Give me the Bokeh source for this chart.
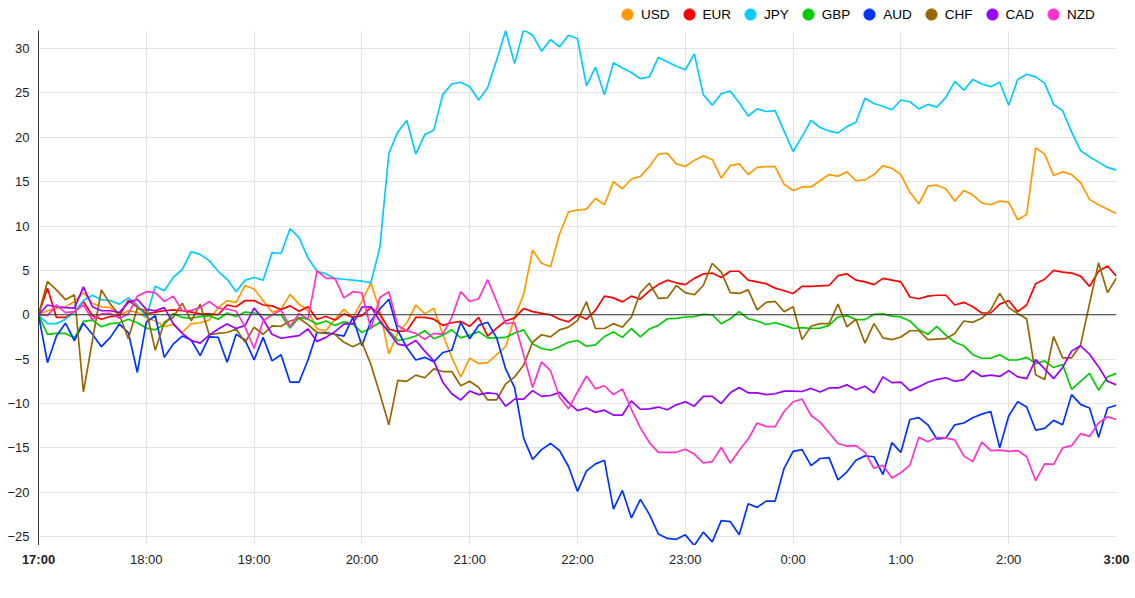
import numpy as np
from bokeh.plotting import figure
from bokeh.layouts import column
from bokeh.models import (Range1d, FixedTicker, Span, Legend, LegendItem, ColumnDataSource)
from bokeh.core.properties import value
from bokeh.embed import file_html
from bokeh.resources import INLINE

# ---- data (5-minute steps from 17:00 to 3:00) ----
minutes = list(range(0, 605, 5))
tick_minutes = [0, 60, 120, 180, 240, 300, 360, 420, 480, 540, 600]
tick_labels = ["17:00", "18:00", "19:00", "20:00", "21:00", "22:00", "23:00", "0:00", "1:00", "2:00", "3:00"]
tick_styles = ["bold", "normal", "normal", "normal", "normal", "normal", "normal", "normal", "normal", "normal", "bold"]
y_ticks = [-25, -20, -15, -10, -5, 0, 5, 10, 15, 20, 25, 30]

usd = [0, 0.45, 0.75, 0.9, 1.5, 2.5, 1.3, 0.9, 0.8, -0.1, 0.45, 0.3, -0.3, -0.7, -1.3, -1.1, -2.0, -1.0, -0.9, -0.6,
       0.8, 1.6, 1.4, 3.3, 2.9, 1.6, 0.3, 0.6, 2.3, 1.2, 0.45, -1.6, -1.8, -0.5, 0.6, -0.3, 1.5, 3.6, 0.45, -4.4,
       -2.0, -0.9, 1.1, 0.1, 0.75, -2.2, -4.8, -7.0, -4.9, -5.5, -5.4, -4.5, -3.6, -0.3, 2.3, 7.3, 5.8, 5.4, 9.1, 11.6,
       11.8, 11.9, 13.1, 12.4, 15.0, 14.2, 15.3, 15.6, 16.7, 18.1, 18.2, 17.0, 16.7, 17.4, 17.9, 17.5, 15.4, 16.8, 17.0, 15.8,
       16.6, 16.7, 16.7, 14.7, 14.0, 14.4, 14.4, 15.1, 15.8, 15.6, 16.1, 15.1, 15.2, 15.8, 16.8, 16.5, 15.8, 13.8, 12.5, 14.5,
       14.6, 14.2, 12.8, 14.0, 13.5, 12.6, 12.4, 12.8, 12.7, 10.7, 11.3, 18.8, 18.1, 15.7, 16.1, 15.8, 14.9, 13.0, 12.4, 11.9,
       11.4]
eur = [0, 3.0, -0.3, -0.3, 0.3, 1.5, -0.1, -0.5, -0.2, -0.1, 1.6, 0.9, 0.1, 0.3, 0.45, 0.55, 0.45, 0.3, 0.1, 0.1,
       0, 1.1, 0.9, 1.6, 1.6, 1.1, 1.0, 0.6, 1.0, 0.4, 0.9, -0.5, -0.2, -0.6, 0.1, -0.3, -0.1, 0.8, 0.1, -1.6,
       -1.9, -1.8, -0.3, -0.3, -0.5, -1.2, -0.9, -0.75, -1.3, -0.3, -2.4, -1.5, -0.7, -0.35, 0.7, 0.35, 0.15, 0, -0.5, -0.8,
       0, -0.5, 0.5, 2.1, 1.9, 1.45, 2.1, 1.75, 2.7, 3.4, 3.9, 3.6, 3.4, 4.1, 4.6, 4.7, 4.2, 4.9, 4.9, 3.9,
       3.7, 3.5, 3.0, 2.7, 2.4, 3.2, 3.2, 3.25, 3.3, 4.4, 4.6, 3.9, 3.7, 3.4, 4.1, 3.9, 3.7, 2.0, 1.8, 2.1,
       2.2, 2.2, 1.1, 1.4, 0.9, 0.2, 0.2, 1.2, 1.6, 0.35, 1.1, 3.5, 4.0, 5.0, 4.8, 4.7, 4.35, 3.2, 4.9, 5.5,
       4.35]
jpy = [0, -1.0, -1.0, -0.5, 0.3, 1.6, 2.2, 1.7, 1.6, 1.2, 1.9, 1.1, -0.3, 3.2, 2.7, 4.2, 5.1, 7.1, 6.8, 6.1,
       4.9, 4.0, 2.6, 3.9, 4.2, 3.9, 7.0, 6.9, 9.7, 8.7, 6.4, 4.9, 4.6, 4.1, 4.0, 3.9, 3.8, 3.6, 7.6, 18.2,
       20.6, 21.9, 18.1, 20.3, 20.8, 24.8, 26.0, 26.2, 25.7, 24.2, 25.6, 28.7, 32.0, 28.3, 32.1, 31.5, 29.7, 31.0, 30.2, 31.5,
       31.1, 25.8, 27.9, 24.8, 28.4, 27.8, 27.3, 26.6, 26.8, 29.0, 28.5, 28.0, 27.6, 29.4, 24.8, 23.6, 24.9, 25.2, 23.9, 22.4,
       23.2, 22.9, 23.0, 20.7, 18.4, 20.1, 21.9, 21.1, 20.7, 20.5, 21.2, 21.7, 24.4, 23.8, 23.5, 23.1, 24.2, 24.0, 23.2, 23.7,
       23.4, 24.5, 26.3, 25.3, 26.5, 26.0, 25.7, 26.2, 23.6, 26.5, 27.1, 26.8, 26.1, 23.7, 23.0, 20.6, 18.5, 17.8, 17.2, 16.6,
       16.3]
gbp = [0, -2.2, -2.1, -2.1, -2.6, -0.75, -0.6, -1.35, -1.0, -0.9, -0.5, -0.9, -1.5, -1.7, -1.1, 0.15, -0.3, -0.4, -0.2, -0.1,
       -0.5, 0.2, -0.2, 0.3, 0.2, 0, 0, 0, -1.5, -0.3, -0.5, -1.05, -0.7, -1.2, -0.8, -1.05, -2.0, -1.5, -0.85, -1.8,
       -2.9, -2.7, -2.4, -1.8, -2.7, -2.3, -1.7, -2.6, -2.3, -1.9, -2.6, -2.6, -2.55, -2.05, -1.7, -3.3, -3.8, -4.0, -3.6, -3.1,
       -2.9, -3.55, -3.4, -2.45, -1.95, -2.55, -1.55, -2.5, -1.6, -1.2, -0.45, -0.4, -0.25, -0.2, 0.05, 0, -1.0, -0.45, 0.35, -0.45,
       -0.7, -1.1, -0.9, -1.2, -1.55, -1.45, -1.55, -1.5, -1.2, -0.25, -0.1, -0.55, -0.55, 0.05, 0.1, -0.15, -0.25, -0.7, -1.7, -2.2,
       -1.3, -2.3, -3.1, -3.5, -4.5, -4.9, -4.9, -4.5, -5.1, -5.1, -4.8, -5.5, -5.2, -5.95, -5.6, -8.4, -7.5, -6.6, -8.5, -7.0,
       -6.6]
aud = [0, -5.4, -2.4, -0.95, -2.9, -0.95, -2.2, -3.6, -2.55, -1.05, -2.0, -6.5, -0.85, -0.1, -4.8, -3.3, -2.4, -2.85, -4.6, -2.5,
       -2.55, -5.35, -2.2, -2.85, -5.1, -2.55, -5.2, -4.5, -7.6, -7.6, -5.1, -2.0, -2.0, -2.2, -2.4, -0.3, -3.5, -0.7, 0.65, 1.75,
       -1.8, -3.7, -5.1, -4.8, -5.3, -4.25, -4.0, -0.85, -2.7, -1.2, -0.85, -2.6, -6.1, -8.2, -13.9, -16.3, -15.2, -14.5, -15.3, -17.1,
       -19.9, -17.6, -16.8, -16.4, -21.9, -19.8, -22.9, -20.8, -22.5, -24.7, -25.2, -25.3, -24.8, -26.0, -24.5, -25.6, -23.2, -23.3, -24.8, -21.3,
       -21.7, -21.0, -21.0, -17.3, -15.4, -15.2, -17.0, -16.2, -16.1, -18.6, -17.7, -16.4, -15.9, -16.0, -18.0, -14.4, -15.5, -11.8, -11.6, -12.4,
       -14.0, -13.9, -12.4, -12.2, -11.6, -11.2, -10.9, -15.0, -11.4, -9.8, -10.4, -13.0, -12.8, -11.9, -12.4, -9.0, -10.1, -10.5, -13.8, -10.5,
       -10.2]
chf = [0, 3.75, 2.8, 1.7, 2.25, -8.7, -2.9, 2.8, 1.2, 0.0, -2.7, 0.75, 0.45, -4.0, -0.85, -0.3, 1.3, -0.7, 1.2, -2.25,
       -2.1, -2.0, -1.6, -3.1, -1.4, -2.2, -1.25, -1.3, -0.7, -0.4, -1.1, -2.0, -2.1, -2.2, -3.1, -3.6, -3.1, -5.6, -8.9, -12.4,
       -7.4, -7.5, -6.8, -7.1, -6.1, -6.4, -6.4, -8.0, -7.5, -8.2, -9.6, -9.6, -7.8, -7.0, -5.7, -3.1, -2.25, -2.5, -1.7, -1.4,
       -0.65, 1.45, -1.55, -1.55, -1.0, -1.4, -0.25, 2.5, 3.55, 1.85, 1.9, 3.3, 2.5, 2.25, 3.3, 5.8, 4.8, 2.5, 2.4, 2.8,
       0.55, 1.4, 1.5, 0.35, 0.9, -2.8, -1.3, -1.0, -1.0, 1.2, -1.35, -0.5, -3.2, -1.0, -2.6, -2.8, -2.5, -1.8, -1.8, -2.8,
       -2.75, -2.7, -2.1, -0.7, -0.85, -0.4, 0.55, 2.4, 0.8, 0.15, -0.45, -6.75, -7.3, -2.45, -4.85, -4.85, -3.4, 1.25, 5.85, 2.5,
       4.15]
cad = [0, 1.1, 0.9, 0.8, 0.75, 3.15, 0.9, 0.45, 0.45, 0.25, 1.4, 1.75, 0.6, 0.45, 0.8, -1.0, -2.1, -2.9, -3.2, -2.3,
       -1.6, -1.05, -1.55, -1.2, 0.75, -0.5, -2.2, -2.65, -2.5, -2.35, -1.6, -3.0, -2.55, -1.9, -1.05, -1.0, 0.85, 0.9, -0.7, -2.0,
       -3.3, -3.5, -2.9, -4.1, -5.2, -7.6, -8.9, -9.6, -8.6, -9.0, -8.8, -8.9, -10.3, -9.5, -9.5, -8.55, -9.2, -9.1, -8.75, -9.9,
       -10.8, -10.5, -11.0, -10.75, -11.3, -11.3, -9.7, -10.65, -10.6, -10.4, -10.7, -10.15, -9.8, -10.3, -9.2, -9.2, -10.0, -8.8, -8.2, -8.8,
       -8.8, -9.0, -8.9, -8.6, -8.6, -8.65, -8.3, -8.7, -8.25, -8.25, -7.9, -8.45, -8.05, -8.8, -7.0, -7.65, -7.6, -8.55, -8.1, -7.6,
       -7.3, -7.1, -7.5, -7.3, -6.3, -6.95, -6.8, -6.95, -6.3, -7.0, -7.2, -5.05, -6.1, -7.2, -5.95, -4.1, -3.5, -4.45, -5.85, -7.5,
       -7.9]
nzd = [0, -0.1, 1.1, 0.25, 0.35, 1.1, -0.55, 0.1, 0.15, -0.4, 0.1, 2.1, 2.6, 2.5, 1.5, 2.1, 0.45, 0.5, 0.8, 1.5,
       0.75, 0.65, 0.4, -1.4, -3.8, -0.7, 0, 0.5, -1.35, 0.15, -0.5, 4.95, 4.1, 4.1, 1.9, 2.6, 2.45, -1.6, 1.95, 2.6,
       -1.25, -1.8, -2.1, -2.75, -2.1, -2.2, -0.3, 2.6, 1.5, 1.8, 3.95, 1.5, -1.0, -0.9, -4.5, -8.2, -5.3, -6.3, -9.3, -10.6,
       -8.7, -6.9, -8.35, -8.0, -9.0, -8.35, -10.65, -12.75, -14.4, -15.5, -15.5, -15.5, -15.15, -15.7, -16.7, -16.55, -14.95, -16.7, -15.3, -14.0,
       -12.2, -12.6, -12.6, -10.9, -9.8, -9.5, -11.35, -12.1, -13.3, -14.5, -14.8, -14.75, -15.5, -17.3, -16.95, -18.4, -17.8, -16.95, -13.8, -14.3,
       -13.8, -13.9, -14.1, -15.9, -16.55, -14.35, -15.3, -15.25, -15.4, -15.3, -16.0, -18.7, -16.8, -16.85, -15.0, -14.75, -13.4, -13.7, -12.2, -11.5,
       -11.8]

series_names = ["USD", "EUR", "JPY", "GBP", "AUD", "CHF", "CAD", "NZD"]
series_values = [usd, eur, jpy, gbp, aud, chf, cad, nzd]
series_colors = ["#FF9900", "#FF0000", "#00CCFF", "#00CC00", "#0033FF", "#996600", "#9900FF", "#FF33CC"]

FONT = "Liberation Sans"

# layout constants (pixels); the page itself has no body margin
TOTAL_W = 1135
BORDER_L = 38
BORDER_R = 19
FRAME_W = TOTAL_W - BORDER_L - BORDER_R
X0, X1 = 0, 600


def bare(fig):
    fig.outline_line_color = None
    fig.grid.visible = False
    fig.background_fill_color = "white"
    fig.border_fill_color = "white"


def unalign(fig):
    try:
        fig.frame_align = False
        return True
    except Exception:
        return False


# ---------- legend strip ----------
leg_fig = figure(width=TOTAL_W, height=30, x_range=Range1d(0, 1), y_range=Range1d(0, 1),
                 min_border=0, x_axis_location=None, y_axis_location=None,
                 output_backend="svg", toolbar_location=None)
bare(leg_fig)
leg_free = unalign(leg_fig)
items = []
for name, col in zip(series_names, series_colors):
    dummy_src = ColumnDataSource(data=dict(x=np.array([np.nan]), y=np.array([np.nan])))
    dummy = leg_fig.scatter("x", "y", source=dummy_src, marker="circle", size=11,
                            fill_color=col, line_color=col)
    items.append(LegendItem(label=name, renderers=[dummy]))
leg_x = 613 if leg_free else 613 - BORDER_L
legend = Legend(items=items, orientation="horizontal", location=(leg_x, 2),
                glyph_width=28, glyph_height=28, label_height=16, label_standoff=0,
                spacing=5, padding=0, margin=0,
                border_line_color=None, background_fill_alpha=0,
                label_text_font=FONT, label_text_font_size="13.5px", label_text_color="#000000")
leg_fig.add_layout(legend, "center")

# ---------- main chart ----------
p = figure(width=TOTAL_W, height=515,
           min_border_left=BORDER_L, min_border_right=BORDER_R, min_border_top=0, min_border_bottom=0,
           x_range=Range1d(X0, X1), y_range=Range1d(-26.0, 32.03),
           x_axis_location=None,
           output_backend="svg", toolbar_location=None)
p.outline_line_color = None
p.background_fill_color = "white"
p.border_fill_color = "white"

p.xgrid.ticker = FixedTicker(ticks=tick_minutes[1:-1])
p.ygrid.ticker = FixedTicker(ticks=y_ticks)
p.xgrid.grid_line_color = "#e3e3e3"
p.ygrid.grid_line_color = "#e3e3e3"

ya = p.yaxis[0]
ya.ticker = FixedTicker(ticks=y_ticks)
ya.axis_line_color = "#333333"
ya.axis_line_width = 1
ya.major_tick_line_color = None
ya.minor_tick_line_color = None
ya.major_label_standoff = 3
ya.major_label_text_font = FONT
ya.major_label_text_font_size = "13px"
ya.major_label_text_color = "#222222"

p.add_layout(Span(location=0, dimension="width", line_color="#333333", line_width=1))

for name, vals, col in zip(series_names, series_values, series_colors):
    src = ColumnDataSource(data=dict(x=minutes, y=vals))
    p.line("x", "y", source=src, line_color=col, line_width=1.7)

# ---------- x-axis label strip (same horizontal scale as main frame) ----------
per_px = (X1 - X0) / FRAME_W
ax_fig = figure(width=TOTAL_W, height=40,
                x_range=Range1d(X0, X1), y_range=Range1d(0, 40),
                min_border=0, x_axis_location=None, y_axis_location=None,
                output_backend="svg", toolbar_location=None)
bare(ax_fig)
if unalign(ax_fig):
    ax_fig.x_range = Range1d(X0 - BORDER_L * per_px, X1 + BORDER_R * per_px)
tick_src = ColumnDataSource(data=dict(x=tick_minutes, label=tick_labels, style=tick_styles))
ax_fig.text(x="x", y=26, text="label", source=tick_src,
            text_align="center", text_baseline="middle",
            text_font=value(FONT), text_font_size="13px", text_font_style="style",
            text_color="#222222")

layout = column(leg_fig, p, ax_fig, spacing=0)
open("out.html", "w").write(file_html(layout, INLINE))
